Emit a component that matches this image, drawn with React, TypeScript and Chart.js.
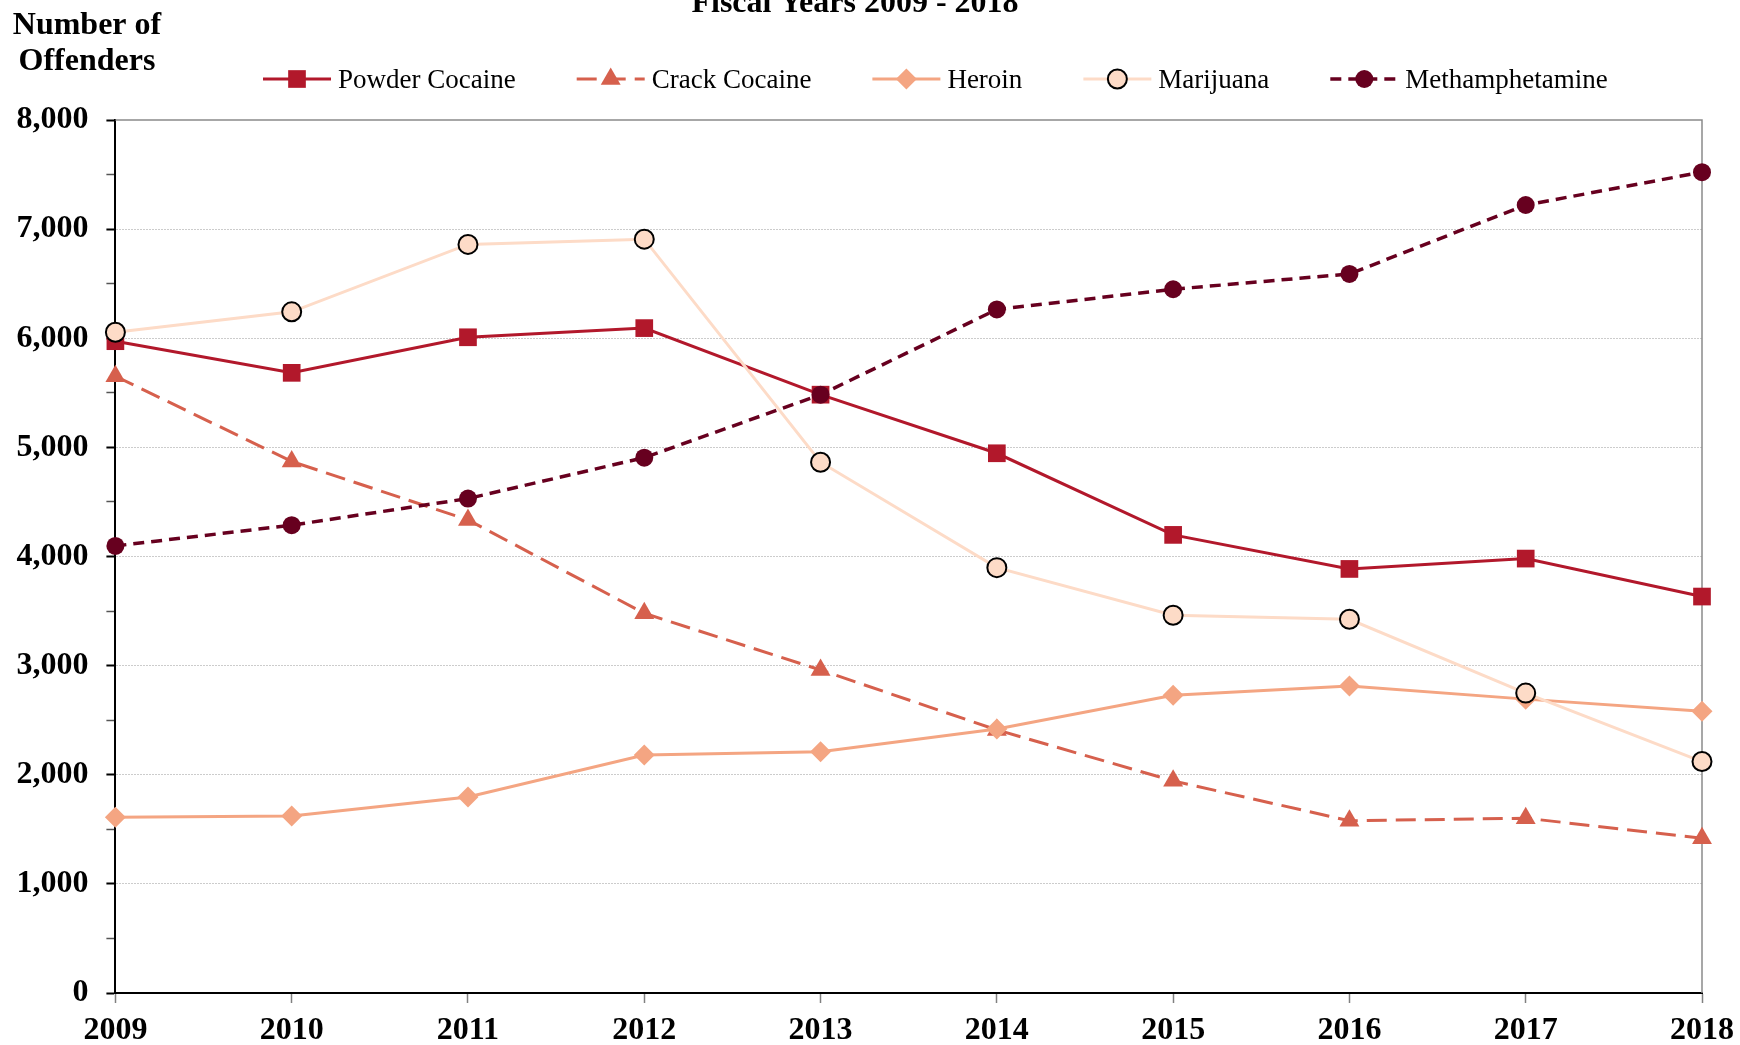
import React, { useEffect, useRef } from 'react';
import { Chart, registerables } from 'chart.js';

Chart.register(...registerables);

const years = ['2009', '2010', '2011', '2012', '2013', '2014', '2015', '2016', '2017', '2018'];

const powderCocaine = [5973, 5683, 6009, 6093, 5483, 4946, 4198, 3886, 3981, 3633];
const crackCocaine = [5652, 4871, 4335, 3480, 2960, 2411, 1944, 1578, 1602, 1419];
const heroin = [1611, 1623, 1797, 2180, 2210, 2420, 2729, 2814, 2693, 2583];
const marijuana = [6055, 6242, 6860, 6908, 4864, 3898, 3462, 3425, 2748, 2121];
const methamphetamine = [4097, 4287, 4531, 4906, 5483, 6264, 6449, 6589, 7221, 7522];

const seriesNames = ['Powder Cocaine', 'Crack Cocaine', 'Heroin', 'Marijuana', 'Methamphetamine'];

const yMin = 0;
const yMax = 8000;
const yStep = 500;
const yLabelStep = 1000;

const titleText = 'Fiscal Years 2009 - 2018';
const yTitleLines = ['Number of', 'Offenders'];

const FONT = "'Times New Roman', 'Liberation Serif', Times, serif";

type MarkerStyle = 'rect' | 'triangle' | 'rectRot' | 'circle';

function drawMarker(
  ctx: CanvasRenderingContext2D,
  style: MarkerStyle,
  x: number,
  y: number,
  r: number,
  fill: string,
  stroke: string,
  strokeW: number
) {
  ctx.save();
  ctx.beginPath();
  if (style === 'rect') {
    const s = Math.SQRT1_2 * r;
    ctx.rect(x - s, y - s, 2 * s, 2 * s);
  } else if (style === 'triangle') {
    let rad = 0;
    ctx.moveTo(x + Math.sin(rad) * r, y - Math.cos(rad) * r);
    rad += (2 * Math.PI) / 3;
    ctx.lineTo(x + Math.sin(rad) * r, y - Math.cos(rad) * r);
    rad += (2 * Math.PI) / 3;
    ctx.lineTo(x + Math.sin(rad) * r, y - Math.cos(rad) * r);
    ctx.closePath();
  } else if (style === 'rectRot') {
    ctx.moveTo(x, y - r);
    ctx.lineTo(x + r, y);
    ctx.lineTo(x, y + r);
    ctx.lineTo(x - r, y);
    ctx.closePath();
  } else {
    ctx.arc(x, y, r, 0, Math.PI * 2);
  }
  ctx.fillStyle = fill;
  ctx.fill();
  if (strokeW > 0) {
    ctx.lineWidth = strokeW;
    ctx.strokeStyle = stroke;
    ctx.stroke();
  }
  ctx.restore();
}

const textPlugin = {
  id: 'textPlugin',
  afterDraw(chart: any) {
    const ctx: CanvasRenderingContext2D = chart.ctx;
    ctx.save();
    ctx.fillStyle = '#000';
    ctx.textAlign = 'center';
    ctx.textBaseline = 'alphabetic';
    ctx.font = `bold 32px ${FONT}`;
    ctx.fillText(titleText, 855, 12);
    ctx.fillText(yTitleLines[0], 87, 34);
    ctx.fillText(yTitleLines[1], 87, 70);

    // legend
    ctx.font = `27px ${FONT}`;
    ctx.textAlign = 'left';
    let x = 263;
    const cy = 79;
    const seg = 68;
    chart.data.datasets.forEach((ds: any, i: number) => {
      ctx.save();
      ctx.strokeStyle = ds.borderColor;
      ctx.lineWidth = ds.borderWidth;
      ctx.setLineDash(ds.borderDash || []);
      ctx.beginPath();
      ctx.moveTo(x, cy);
      ctx.lineTo(x + seg, cy);
      ctx.stroke();
      ctx.restore();
      drawMarker(
        ctx,
        ds.pointStyle,
        x + seg / 2,
        cy,
        ds.pointRadius,
        ds.pointBackgroundColor,
        ds.pointBorderColor,
        ds.pointBorderWidth
      );
      ctx.fillStyle = '#000';
      const tx = x + seg + 7;
      ctx.fillText(seriesNames[i], tx, 88);
      x = tx + ctx.measureText(seriesNames[i]).width + 61;
    });
    ctx.restore();
  },
};

const framePlugin = {
  id: 'framePlugin',
  beforeDatasetsDraw(chart: any) {
    const { ctx, chartArea } = chart;
    ctx.save();
    ctx.strokeStyle = '#8a8a8a';
    ctx.lineWidth = 1.5;
    ctx.beginPath();
    ctx.moveTo(chartArea.left, chartArea.top);
    ctx.lineTo(chartArea.right, chartArea.top);
    ctx.lineTo(chartArea.right, chartArea.bottom);
    ctx.stroke();
    ctx.restore();
  },
};

export default function App() {
  const ref = useRef<HTMLCanvasElement>(null);

  useEffect(() => {
    if (!ref.current) return;
    const chart = new Chart(ref.current, {
      type: 'line',
      data: {
        labels: years,
        datasets: [
          {
            label: seriesNames[0],
            data: powderCocaine,
            borderColor: '#B2182B',
            backgroundColor: '#B2182B',
            borderWidth: 3,
            pointStyle: 'rect',
            pointRadius: 12.5,
            pointBackgroundColor: '#B2182B',
            pointBorderColor: '#B2182B',
            pointBorderWidth: 0,
            order: 4,
            tension: 0,
            clip: false as any,
          },
          {
            label: seriesNames[1],
            data: crackCocaine,
            borderColor: '#D6604D',
            backgroundColor: '#D6604D',
            borderWidth: 3,
            borderDash: [20, 9],
            pointStyle: 'triangle',
            pointRadius: 11.5,
            pointBackgroundColor: '#D6604D',
            pointBorderColor: '#D6604D',
            pointBorderWidth: 0,
            order: 3,
            tension: 0,
            clip: false as any,
          },
          {
            label: seriesNames[2],
            data: heroin,
            borderColor: '#F4A582',
            backgroundColor: '#F4A582',
            borderWidth: 3,
            pointStyle: 'rectRot',
            pointRadius: 10.5,
            pointBackgroundColor: '#F4A582',
            pointBorderColor: '#F4A582',
            pointBorderWidth: 0,
            order: 2,
            tension: 0,
            clip: false as any,
          },
          {
            label: seriesNames[3],
            data: marijuana,
            borderColor: '#FDDBC7',
            backgroundColor: '#FDDBC7',
            borderWidth: 3,
            pointStyle: 'circle',
            pointRadius: 9.5,
            pointBackgroundColor: '#FDDBC7',
            pointBorderColor: '#000000',
            pointBorderWidth: 2,
            order: 1,
            tension: 0,
            clip: false as any,
          },
          {
            label: seriesNames[4],
            data: methamphetamine,
            borderColor: '#67001F',
            backgroundColor: '#67001F',
            borderWidth: 3.5,
            borderDash: [11, 7],
            pointStyle: 'circle',
            pointRadius: 9,
            pointBackgroundColor: '#67001F',
            pointBorderColor: '#67001F',
            pointBorderWidth: 0,
            order: 0,
            tension: 0,
            clip: false as any,
          },
        ],
      },
      options: {
        responsive: false,
        animation: false,
        events: [],
        layout: { padding: { top: 120, left: 0, right: 38, bottom: 0 } },
        plugins: {
          legend: { display: false },
          title: { display: false },
          tooltip: { enabled: false },
        },
        scales: {
          x: {
            type: 'category',
            offset: false,
            grid: {
              drawOnChartArea: false,
              drawTicks: true,
              tickLength: 10,
              tickColor: '#808080',
              tickWidth: 1.5,
            },
            border: { display: true, color: '#000', width: 2 },
            ticks: {
              autoSkip: false,
              maxRotation: 0,
              minRotation: 0,
              padding: 9,
              color: '#000',
              font: { family: FONT, size: 32, weight: 'bold' },
            },
            afterFit: (s: any) => {
              s.height = 52;
              s.paddingLeft = 0;
              s.paddingRight = 0;
            },
          },
          y: {
            type: 'linear',
            min: yMin,
            max: yMax,
            ticks: {
              stepSize: yStep,
              autoSkip: false,
              padding: 18,
              color: '#000',
              font: { family: FONT, size: 32, weight: 'bold' },
              callback: (v: any) =>
                Number(v) % yLabelStep === 0 ? Number(v).toLocaleString('en-US') : '',
            },
            grid: {
              color: (c: any) =>
                c.tick && c.tick.value % yLabelStep === 0 && c.tick.value > yMin && c.tick.value < yMax
                  ? '#cccccc'
                  : 'rgba(0,0,0,0)',
              lineWidth: 1,
              tickLength: 9,
              tickColor: (c: any) =>
                c.tick && c.tick.value % yLabelStep === 0 ? '#000' : '#555',
              tickWidth: (c: any) => (c.tick && c.tick.value % yLabelStep === 0 ? 2 : 1.5),
            },
            border: { display: true, color: '#000', width: 2, dash: [2, 1] },
            afterFit: (s: any) => {
              s.width = 115.4;
              s.paddingTop = 0;
              s.paddingBottom = 0;
            },
          },
        },
      },
      plugins: [framePlugin, textPlugin],
    } as any);
    return () => chart.destroy();
  }, []);

  return (
    <div style={{ position: 'absolute', left: 0, top: 0, width: 1740, height: 1045, background: '#fff' }}>
      <canvas ref={ref} width={1740} height={1045} style={{ display: 'block' }} />
    </div>
  );
}
